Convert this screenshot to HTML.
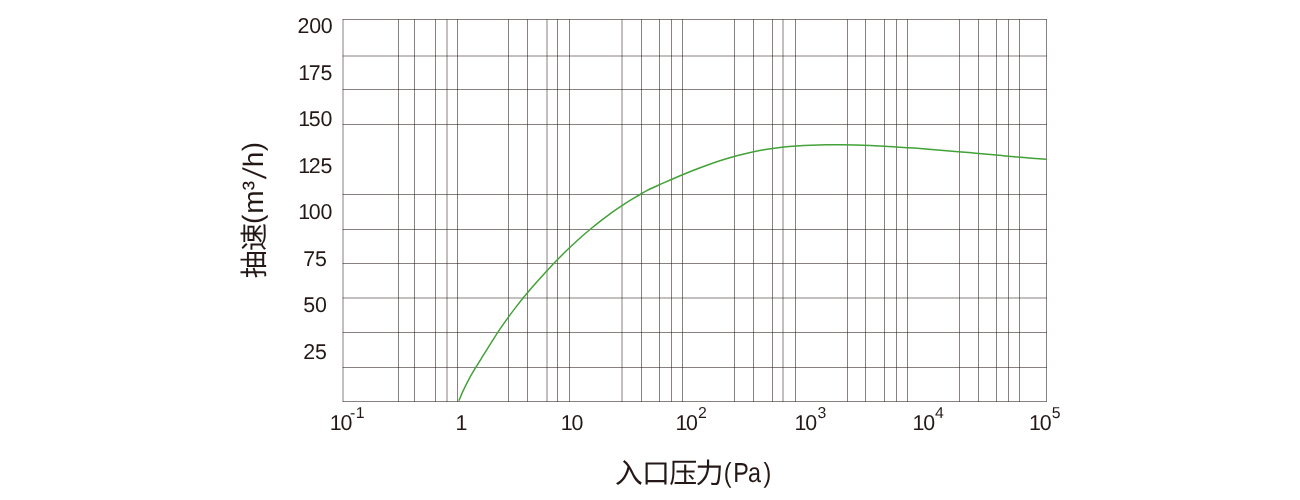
<!DOCTYPE html>
<html lang="zh-CN">
<head>
<meta charset="utf-8">
<title>抽速曲线</title>
<style>
html,body{margin:0;padding:0;background:#fff;}
body{width:1300px;height:500px;overflow:hidden;}
svg{display:block;will-change:transform;}
text{text-rendering:geometricPrecision;}
.num{font-family:"Liberation Sans",sans-serif;font-size:21.4px;letter-spacing:-0.2px;fill:#231815;}
.ttl{font-family:"Liberation Sans","Noto Sans CJK SC",sans-serif;font-size:28px;letter-spacing:-0.8px;fill:#231815;font-weight:400;}
.lat{font-family:"Liberation Sans",sans-serif;fill:#231815;}
</style>
</head>
<body>
<svg width="1300" height="500" viewBox="0 0 1300 500">
<g stroke="#231815" stroke-width="0.55" fill="none">
<line x1="343.0" y1="19.23" x2="343.0" y2="401.77"/>
<line x1="398.5" y1="19.23" x2="398.5" y2="401.77"/>
<line x1="414.5" y1="19.23" x2="414.5" y2="401.77"/>
<line x1="435.5" y1="19.23" x2="435.5" y2="401.77"/>
<line x1="447.0" y1="19.23" x2="447.0" y2="401.77"/>
<line x1="457.5" y1="19.23" x2="457.5" y2="401.77"/>
<line x1="508.5" y1="19.23" x2="508.5" y2="401.77"/>
<line x1="527.5" y1="19.23" x2="527.5" y2="401.77"/>
<line x1="547.0" y1="19.23" x2="547.0" y2="401.77"/>
<line x1="557.5" y1="19.23" x2="557.5" y2="401.77"/>
<line x1="569.5" y1="19.23" x2="569.5" y2="401.77"/>
<line x1="622.0" y1="19.23" x2="622.0" y2="401.77"/>
<line x1="641.5" y1="19.23" x2="641.5" y2="401.77"/>
<line x1="659.5" y1="19.23" x2="659.5" y2="401.77"/>
<line x1="671.5" y1="19.23" x2="671.5" y2="401.77"/>
<line x1="682.5" y1="19.23" x2="682.5" y2="401.77"/>
<line x1="734.5" y1="19.23" x2="734.5" y2="401.77"/>
<line x1="753.5" y1="19.23" x2="753.5" y2="401.77"/>
<line x1="772.5" y1="19.23" x2="772.5" y2="401.77"/>
<line x1="783.0" y1="19.23" x2="783.0" y2="401.77"/>
<line x1="795.5" y1="19.23" x2="795.5" y2="401.77"/>
<line x1="847.5" y1="19.23" x2="847.5" y2="401.77"/>
<line x1="865.5" y1="19.23" x2="865.5" y2="401.77"/>
<line x1="884.5" y1="19.23" x2="884.5" y2="401.77"/>
<line x1="896.5" y1="19.23" x2="896.5" y2="401.77"/>
<line x1="907.5" y1="19.23" x2="907.5" y2="401.77"/>
<line x1="959.5" y1="19.23" x2="959.5" y2="401.77"/>
<line x1="978.5" y1="19.23" x2="978.5" y2="401.77"/>
<line x1="996.5" y1="19.23" x2="996.5" y2="401.77"/>
<line x1="1008.5" y1="19.23" x2="1008.5" y2="401.77"/>
<line x1="1019.5" y1="19.23" x2="1019.5" y2="401.77"/>
<line x1="1046.5" y1="19.23" x2="1046.5" y2="401.77"/>
<line x1="342.73" y1="19.5" x2="1046.78" y2="19.5"/>
<line x1="342.73" y1="56.0" x2="1046.78" y2="56.0"/>
<line x1="342.73" y1="89.5" x2="1046.78" y2="89.5"/>
<line x1="342.73" y1="124.5" x2="1046.78" y2="124.5"/>
<line x1="342.73" y1="194.5" x2="1046.78" y2="194.5"/>
<line x1="342.73" y1="229.5" x2="1046.78" y2="229.5"/>
<line x1="342.73" y1="263.5" x2="1046.78" y2="263.5"/>
<line x1="342.73" y1="298.0" x2="1046.78" y2="298.0"/>
<line x1="342.73" y1="332.5" x2="1046.78" y2="332.5"/>
<line x1="342.73" y1="367.5" x2="1046.78" y2="367.5"/>
<line x1="342.73" y1="401.5" x2="1046.78" y2="401.5"/>
</g>
<path d="M458.85 400.72 C461.61 393.82 464.38 387.90 467.14 382.58 C469.90 377.25 472.67 372.51 475.43 367.98 C478.19 363.45 480.95 359.10 483.72 354.66 C486.48 350.22 489.24 345.76 492.01 341.39 C494.77 337.03 497.53 332.76 500.30 328.67 C503.06 324.58 505.82 320.65 508.58 316.85 C511.35 313.06 514.11 309.39 516.87 305.84 C519.64 302.29 522.40 298.86 525.16 295.52 C527.93 292.17 530.69 288.92 533.45 285.74 C536.22 282.56 538.98 279.44 541.74 276.38 C544.50 273.33 547.27 270.33 550.03 267.40 C552.79 264.46 555.56 261.59 558.32 258.78 C561.08 255.97 563.85 253.23 566.61 250.55 C569.37 247.86 572.13 245.25 574.90 242.70 C577.66 240.15 580.42 237.67 583.19 235.25 C585.95 232.83 588.71 230.49 591.48 228.21 C594.24 225.93 597.00 223.72 599.77 221.57 C602.53 219.42 605.29 217.34 608.05 215.32 C610.82 213.30 613.58 211.34 616.34 209.44 C619.11 207.53 621.87 205.69 624.63 203.89 C627.40 202.10 630.16 200.36 632.92 198.67 C635.68 196.98 638.45 195.34 641.21 193.74 C643.97 192.15 646.74 190.72 649.50 189.22 C654.40 186.97 659.30 184.86 664.20 182.66 C669.10 180.46 674.01 178.31 678.91 176.22 C683.81 174.13 688.71 172.12 693.61 170.19 C698.51 168.26 703.41 166.42 708.31 164.67 C713.22 162.93 718.12 161.28 723.02 159.75 C727.92 158.22 732.82 156.79 737.72 155.49 C742.62 154.19 747.52 153.02 752.43 151.98 C757.33 150.94 762.23 150.04 767.13 149.26 C772.03 148.49 776.93 147.83 781.83 147.28 C786.73 146.73 791.64 146.29 796.54 145.94 C801.44 145.59 806.34 145.33 811.24 145.15 C816.14 144.97 821.04 144.86 825.94 144.81 C830.85 144.76 835.75 144.78 840.65 144.83 C845.55 144.89 850.45 144.99 855.35 145.12 C860.25 145.25 865.15 145.42 870.06 145.61 C874.96 145.81 879.86 146.04 884.76 146.29 C889.66 146.55 894.56 146.83 899.46 147.13 C904.36 147.44 909.27 147.77 914.17 148.11 C919.07 148.46 923.97 148.83 928.87 149.21 C933.77 149.59 938.67 149.99 943.57 150.40 C948.48 150.81 953.38 151.23 958.28 151.65 C963.18 152.08 968.08 152.52 972.98 152.96 C977.88 153.40 982.78 153.84 987.69 154.28 C992.59 154.73 997.49 155.17 1002.39 155.61 C1007.29 156.05 1012.19 156.49 1017.09 156.91 C1021.99 157.34 1026.90 157.76 1031.80 158.17 C1036.70 158.58 1041.60 158.98 1046.50 159.36" fill="none" stroke="#42a237" stroke-width="1.5" stroke-linejoin="round"/>
<g class="num">
<text x="315.0" y="32.9" text-anchor="middle">200</text>
<text x="314.2" y="79.5" text-anchor="middle"><tspan dx="1.0">1</tspan><tspan dx="-1.0">75</tspan></text>
<text x="314.2" y="126.0" text-anchor="middle"><tspan dx="1.0">1</tspan><tspan dx="-1.0">50</tspan></text>
<text x="314.2" y="172.6" text-anchor="middle"><tspan dx="1.0">1</tspan><tspan dx="-1.0">25</tspan></text>
<text x="314.2" y="219.2" text-anchor="middle"><tspan dx="1.0">1</tspan><tspan dx="-1.0">00</tspan></text>
<text x="315.0" y="265.8" text-anchor="middle">75</text>
<text x="315.0" y="312.3" text-anchor="middle">50</text>
<text x="315.0" y="358.9" text-anchor="middle">25</text>
<text x="328.7" y="429.7"><tspan dx="1.0">1</tspan><tspan dx="-1.0">0</tspan></text>
<text x="349.9" y="417.9" font-size="15.8">-<tspan dx="0.7">1</tspan></text>
<text x="455.4" y="429.7">1</text>
<text x="559.8" y="429.7"><tspan dx="1.0">1</tspan><tspan dx="-1.0">0</tspan></text>
<text x="674.4" y="429.7"><tspan dx="1.0">1</tspan><tspan dx="-1.0">0</tspan></text>
<text x="698.1" y="417.9" font-size="15.8">2</text>
<text x="793.5" y="429.7"><tspan dx="1.0">1</tspan><tspan dx="-1.0">0</tspan></text>
<text x="817.4" y="417.9" font-size="15.8">3</text>
<text x="911.5" y="429.7"><tspan dx="1.0">1</tspan><tspan dx="-1.0">0</tspan></text>
<text x="935.1" y="417.9" font-size="15.8">4</text>
<text x="1028.0" y="429.7"><tspan dx="1.0">1</tspan><tspan dx="-1.0">0</tspan></text>
<text x="1051.8" y="417.9" font-size="15.8">5</text>
</g>
<text class="ttl" x="614.85 642.05 669.25 695.6" y="482.95">入口压力</text>
<text class="lat" font-size="27.5" transform="translate(723.85 481.7) scale(0.85 1)" x="0 10.96 28.41 46.72">(Pa)</text>
<g transform="translate(264.1 278.28) rotate(-90)">
<text class="ttl" x="0" y="0">抽速</text>
<text class="lat" font-size="28" y="-2.2" x="54.35 64.49 88.09">(<tspan dy="0.8">m</tspan><tspan dy="-1">³</tspan></text>
<text class="lat" font-size="28" transform="translate(99.1 1.8) skewX(-10.3) scale(1 1.17)">/</text>
<text class="lat" font-size="28" y="-1.4" x="110.96 127.07">h<tspan dy="-0.8">)</tspan></text>
</g>
</svg>
</body>
</html>
